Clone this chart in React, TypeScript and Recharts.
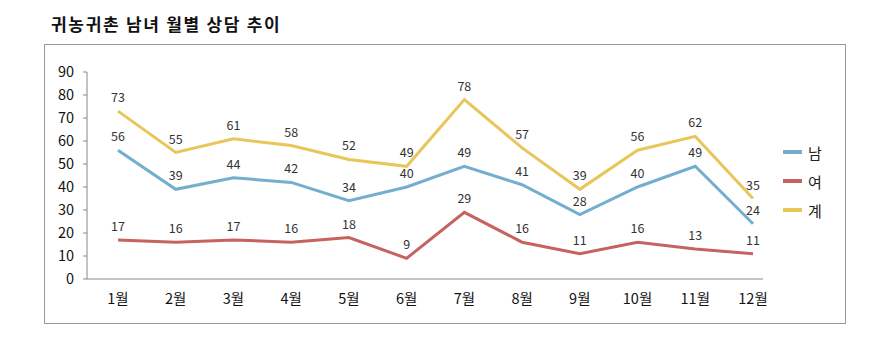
import React from 'react';
import { LineChart, Line, XAxis, YAxis, LabelList } from 'recharts';

const months = ['1월', '2월', '3월', '4월', '5월', '6월', '7월', '8월', '9월', '10월', '11월', '12월'];
const male = [56, 39, 44, 42, 34, 40, 49, 41, 28, 40, 49, 24];
const female = [17, 16, 17, 16, 18, 9, 29, 16, 11, 16, 13, 11];
const total = [73, 55, 61, 58, 52, 49, 78, 57, 39, 56, 62, 35];
const yTicks = [0, 10, 20, 30, 40, 50, 60, 70, 80, 90];
const seriesNames = ['남', '여', '계'];
const seriesColors = ['#74AECF', '#C6625F', '#E8C65A'];

const data = months.map((m, i) => ({ month: m, 남: male[i], 여: female[i], 계: total[i] }));

const FONT = '"Noto Sans CJK KR", "Noto Sans", sans-serif';
const labelStyle = { fontFamily: FONT, fontSize: 12.5, fill: '#333' };

export default function App() {
  return (
    <div style={{ position: 'absolute', left: 0, top: 0, width: 873, height: 361, background: '#fff' }}>
      <div style={{ position: 'absolute', left: 51, top: 11, fontFamily: FONT, fontWeight: 700, fontSize: 17, color: '#111', letterSpacing: 1.7 }}>
        귀농귀촌 남녀 월별 상담 추이
      </div>
      <div style={{ position: 'absolute', left: 44, top: 44, width: 800, height: 278, border: '1px solid #999' }} />
      <div style={{ position: 'absolute', left: 0, top: 0 }}>
        <LineChart width={873} height={361} data={data} margin={{ top: 72, right: 110, bottom: 52, left: 0 }}>
          <XAxis
            dataKey="month"
            tickLine={false}
            axisLine={{ stroke: '#888' }}
            tick={{ fontFamily: FONT, fontSize: 14.5, fill: '#111' }}
            tickMargin={9}
            interval={0}
            padding={{ left: 31, right: 10 }}
          />
          <YAxis
            width={87}
            domain={[0, 90]}
            ticks={yTicks}
            interval={0}
            axisLine={{ stroke: '#888' }}
            tickLine={{ stroke: '#888' }}
            tickSize={4}
            tickMargin={9}
            tick={{ fontFamily: FONT, fontSize: 14.5, fill: '#111' }}
          />
          {seriesNames.map((name, i) => (
            <Line key={name} dataKey={name} stroke={seriesColors[i]} strokeWidth={3} dot={false} isAnimationActive={false}>
              <LabelList dataKey={name} position="top" offset={9} style={labelStyle} />
            </Line>
          ))}
        </LineChart>
      </div>
      <div style={{ position: 'absolute', left: 783, top: 142, display: 'flex', flexDirection: 'column', gap: 9 }}>
        {seriesNames.map((name, i) => (
          <div key={name} style={{ display: 'flex', alignItems: 'center', height: 20 }}>
            <div style={{ width: 19, height: 4, background: seriesColors[i], marginRight: 6 }} />
            <span style={{ fontFamily: FONT, fontSize: 15, color: '#222' }}>{name}</span>
          </div>
        ))}
      </div>
    </div>
  );
}
